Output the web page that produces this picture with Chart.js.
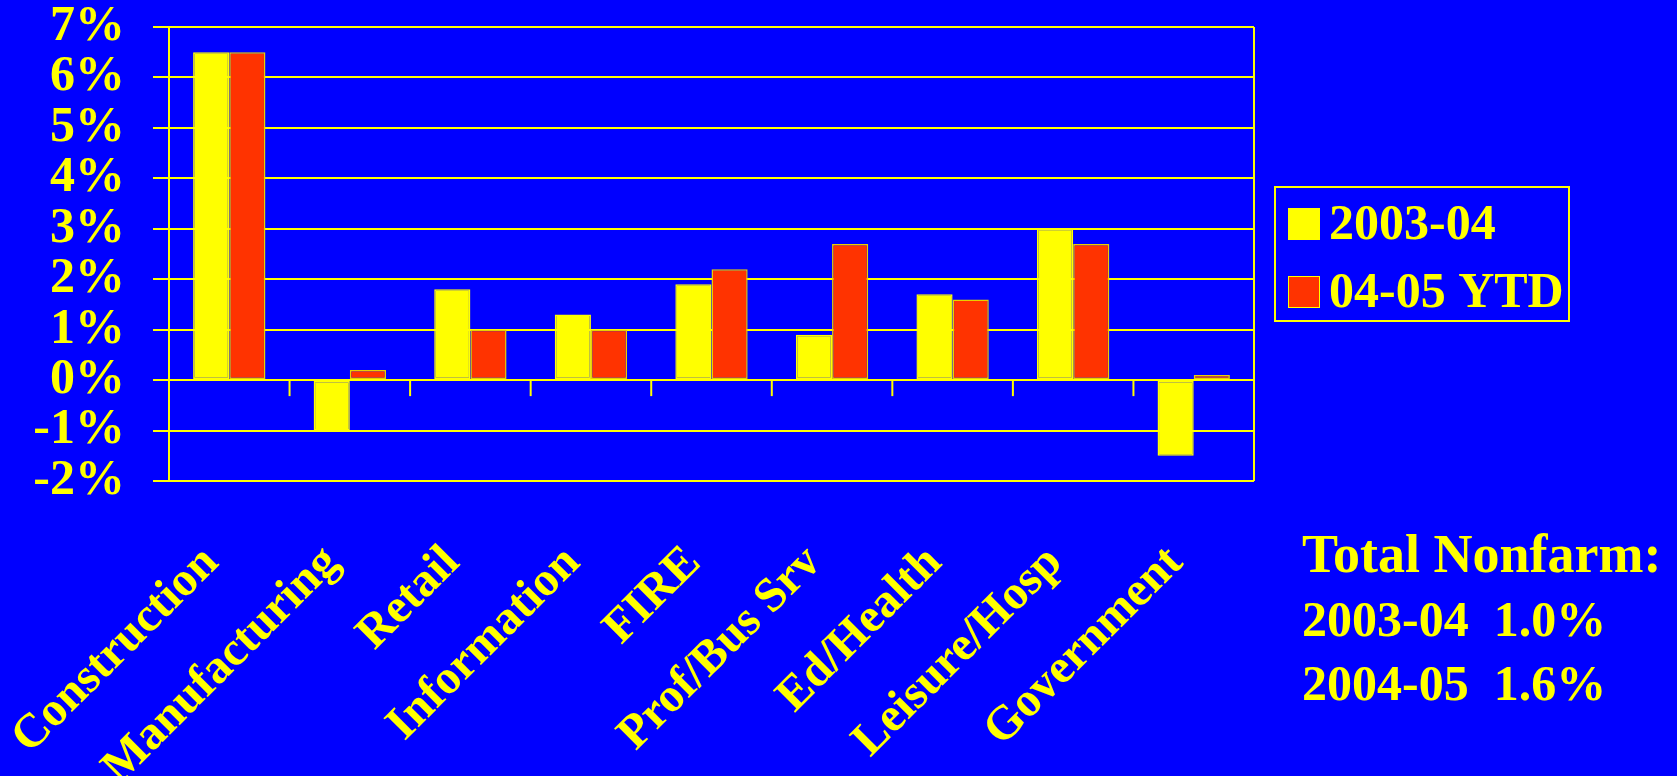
<!DOCTYPE html>
<html>
<head>
	<title>Employment Growth by Sector</title>
	<script src="https://cdn.jsdelivr.net/npm/chart.js"></script>
	<style>
		html, body { margin: 0; padding: 0; background: #0000FF; }
		#wrap { width: 1677px; height: 776px; }
	</style>
</head>
<body>
	<div id="wrap"><canvas id="canvas"></canvas></div>

	<script>
		// Sectors and percent growth
		const sectors = ['Construction', 'Manufacturing', 'Retail', 'Information', 'FIRE',
			'Prof/Bus Srv', 'Ed/Health', 'Leisure/Hosp', 'Government']
		const growth0304 = [6.5, -1.0, 1.8, 1.3, 1.9, 0.9, 1.7, 3.0, -1.5]
		const growth0405 = [6.5, 0.2, 1.0, 1.0, 2.2, 2.7, 1.6, 2.7, 0.1]
		const seriesNames = ['2003-04', '04-05 YTD']
		const yTicks = [-2, -1, 0, 1, 2, 3, 4, 5, 6, 7]
		const totalLines = ['Total Nonfarm:', '2003-04  1.0%', '2004-05  1.6%']

		const YELLOW = '#FFFF00'
		const RED = '#FF3300'
		const FONT = "'Liberation Serif', 'Times New Roman', serif"

		// frame, zero-line ticks, legend box and side note
		const extras = {
			id: 'extras',
			afterDraw(chart) {
				const c = chart.ctx
				const a = chart.chartArea
				const x = chart.scales.x
				const y = chart.scales.y
				c.save()
				c.strokeStyle = YELLOW
				c.lineWidth = 2
				c.beginPath()
				c.moveTo(a.right, a.top)
				c.lineTo(a.right, a.bottom)
				c.stroke()

				// small ticks hanging under the 0% line between categories
				const y0 = y.getPixelForValue(0)
				for (let i = 1; i < sectors.length; i++) {
					const px = (x.getPixelForValue(i - 1) + x.getPixelForValue(i)) / 2
					c.beginPath()
					c.moveTo(px, y0)
					c.lineTo(px, y0 + 16)
					c.stroke()
				}

				// legend
				const lx = 1275, ly = 187, lw = 294, lh = 134
				c.strokeRect(lx, ly, lw, lh)
				const cols = [YELLOW, RED]
				c.font = 'bold 50px ' + FONT
				c.textBaseline = 'middle'
				seriesNames.forEach((n, i) => {
					const ry = 224 + i * 68
					c.fillStyle = cols[i]
					c.fillRect(1288, ry - 16, 32, 32)
					c.lineWidth = 1
					c.strokeRect(1288.5, ry - 15.5, 31, 31)
					c.fillStyle = YELLOW
					c.fillText(n, 1329, ry + 2)
				})

				// total nonfarm note
				c.textBaseline = 'alphabetic'
				c.fillStyle = YELLOW
				totalLines.forEach((t, i) => {
					c.font = (i === 0 ? 'bold 54px ' : 'bold 50px ') + FONT
					c.fillText(t, 1302, 572 + i * 64)
				})
				c.restore()
			}
		}

		const ctx = document.querySelector('#canvas').getContext('2d')
		const chart = new Chart(ctx, {
			type: 'bar',
			data: {
				labels: sectors,
				datasets: [{
					label: seriesNames[0],
					data: growth0304,
					backgroundColor: YELLOW,
					borderColor: YELLOW,
					borderWidth: 1.5,
					borderSkipped: false
				}, {
					label: seriesNames[1],
					data: growth0405,
					backgroundColor: RED,
					borderColor: '#E8D000',
					borderWidth: 1.5,
					borderSkipped: false
				}]
			},
			options: {
				responsive: true,
				maintainAspectRatio: false,
				animation: false,
				layout: { padding: { left: 0, top: 27, right: 423, bottom: 0 } },
				datasets: { bar: { categoryPercentage: 0.6, barPercentage: 1.0 } },
				plugins: { legend: { display: false }, tooltip: { enabled: false } },
				scales: {
					x: {
						grid: { display: false },
						border: { display: false },
						afterFit(scale) {
							scale.height = 295
							scale.paddingLeft = 0
							scale.paddingRight = 0
						},
						ticks: {
							color: YELLOW,
							font: { family: FONT, size: 48, weight: 'bold' },
							minRotation: 45,
							maxRotation: 45,
							autoSkip: false,
							labelOffset: -18,
							padding: 46
						}
					},
					y: {
						min: -2,
						max: 7,
						afterBuildTicks(scale) {
							scale.ticks = yTicks.map(v => ({ value: v }))
						},
						afterFit(scale) {
							scale.width = 169
							scale.paddingTop = 0
							scale.paddingBottom = 0
						},
						grid: { color: YELLOW, lineWidth: 2, tickLength: 16 },
						border: { color: YELLOW, width: 2 },
						ticks: {
							color: YELLOW,
							autoSkip: false,
							padding: 28,
							font: { family: FONT, size: 50, weight: 'bold' },
							callback: v => v + '%'
						}
					}
				}
			},
			plugins: [extras]
		});
	</script>
</body>
</html>
